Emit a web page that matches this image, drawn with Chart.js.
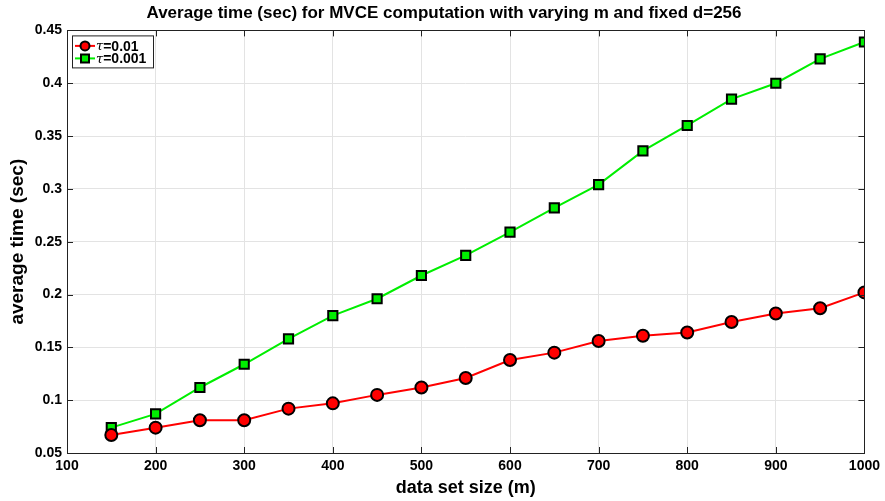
<!DOCTYPE html>
<html>
<head>
<meta charset="utf-8">
<script src="https://cdn.jsdelivr.net/npm/chart.js@4.4.0/dist/chart.umd.min.js"></script>
<style>
  html, body { margin: 0; padding: 0; background: #fff; }
  #wrap { width: 885px; height: 501px; }
</style>
</head>
<body>
<div id="wrap"><canvas id="chart" width="885" height="501"></canvas></div>
<script>
// data
const sizes = [150, 200, 250, 300, 350, 400, 450, 500, 550, 600, 650, 700, 750, 800, 850, 900, 950, 1000];
const tau001 = [0.067, 0.074, 0.081, 0.081, 0.092, 0.097, 0.105, 0.112, 0.121, 0.138, 0.145, 0.156, 0.161, 0.164, 0.174, 0.182, 0.187, 0.202];
const tau0001 = [0.074, 0.087, 0.112, 0.134, 0.158, 0.180, 0.196, 0.218, 0.237, 0.259, 0.282, 0.304, 0.336, 0.360, 0.385, 0.400, 0.423, 0.439];
const legendTaus = ['0.01', '0.001'];
const xTicks = [100, 200, 300, 400, 500, 600, 700, 800, 900, 1000];
const yTicks = [0.05, 0.1, 0.15, 0.2, 0.25, 0.3, 0.35, 0.4, 0.45];

const FONT = '"Liberation Sans", Arial, Helvetica, sans-serif';

// box round the plot with inward tick marks, like matlab
const frameBox = {
    id: 'frameBox',
    afterDatasetsDraw(chart) {
        const { ctx, chartArea: a, scales } = chart;
        ctx.save();
        ctx.strokeStyle = '#222';
        ctx.lineWidth = 1;
        ctx.beginPath();
        xTicks.forEach(v => {
            const px = Math.round(scales.x.getPixelForValue(v)) + 0.5;
            ctx.moveTo(px, a.bottom); ctx.lineTo(px, a.bottom - 6);
            ctx.moveTo(px, a.top); ctx.lineTo(px, a.top + 6);
        });
        yTicks.forEach(v => {
            const py = Math.round(scales.y.getPixelForValue(v)) + 0.5;
            ctx.moveTo(a.left, py); ctx.lineTo(a.left + 6, py);
            ctx.moveTo(a.right, py); ctx.lineTo(a.right - 6, py);
        });
        ctx.stroke();
        ctx.strokeRect(Math.round(a.left) + 0.5, Math.round(a.top) + 0.5,
            Math.round(a.right - a.left), Math.round(a.bottom - a.top));
        ctx.restore();
    }
};

// legend drawn inside the top-left corner
const boxLegend = {
    id: 'boxLegend',
    afterDraw(chart) {
        const { ctx, chartArea: a } = chart;
        const x0 = a.left + 5, y0 = a.top + 5, w = 81, h = 32;
        ctx.save();
        ctx.fillStyle = '#fff';
        ctx.fillRect(x0, y0, w, h);
        ctx.strokeStyle = '#222';
        ctx.lineWidth = 1;
        ctx.strokeRect(x0 + 0.5, y0 + 0.5, w, h);
        chart.data.datasets.forEach((ds, i) => {
            const cy = y0 + 10.5 + i * 12.5;
            ctx.strokeStyle = ds.borderColor;
            ctx.lineWidth = 2;
            ctx.beginPath();
            ctx.moveTo(x0 + 3, cy); ctx.lineTo(x0 + 23, cy);
            ctx.stroke();
            ctx.fillStyle = ds.pointBackgroundColor;
            ctx.strokeStyle = '#000';
            ctx.lineWidth = 2;
            ctx.beginPath();
            if (ds.pointStyle === 'circle') {
                ctx.arc(x0 + 13, cy, 4.5, 0, Math.PI * 2);
            } else {
                ctx.rect(x0 + 9, cy - 4, 8, 8);
            }
            ctx.fill(); ctx.stroke();
            ctx.fillStyle = '#000';
            ctx.textBaseline = 'middle';
            ctx.font = 'italic 13px "DejaVu Serif", serif';
            ctx.fillText('\u03c4', x0 + 24, cy + 1);
            const tw = ctx.measureText('\u03c4').width;
            ctx.font = 'bold 14px ' + FONT;
            ctx.fillText('=' + legendTaus[i], x0 + 24 + tw, cy + 1);
        });
        ctx.restore();
    }
};

const ctx = document.getElementById('chart');
new Chart(ctx, {
    type: 'line',
    data: {
        datasets: [
            {
                label: '\u03c4=0.01',
                data: sizes.map((s, i) => ({ x: s, y: tau001[i] })),
                borderColor: '#ff0000',
                borderWidth: 2,
                pointStyle: 'circle',
                pointRadius: 6,
                pointBorderWidth: 2,
                pointBorderColor: '#000',
                pointBackgroundColor: '#ff0000',
                tension: 0
            },
            {
                label: '\u03c4=0.001',
                data: sizes.map((s, i) => ({ x: s, y: tau0001[i] })),
                borderColor: '#00ee00',
                borderWidth: 2,
                pointStyle: 'rect',
                pointRadius: 6.5,
                pointBorderWidth: 2,
                pointBorderColor: '#000',
                pointBackgroundColor: '#00ee00',
                tension: 0
            }
        ]
    },
    options: {
        responsive: false,
        animation: false,
        // left padding is wide so the title centres like the original;
        // the y title is pulled back left with a negative padding
        layout: { padding: { left: 22, right: 19, top: 0, bottom: 0 } },
        plugins: {
            legend: { display: false },
            tooltip: { enabled: false },
            title: {
                display: true,
                text: 'Average time (sec) for MVCE computation with varying m and fixed d=256',
                color: '#000',
                font: { family: FONT, size: 17, weight: 'bold' },
                padding: { top: 3, bottom: 7 }
            }
        },
        scales: {
            x: {
                type: 'linear',
                min: 100,
                max: 1000,
                afterBuildTicks: (scale) => { scale.ticks = xTicks.map(v => ({ value: v })); },
                afterFit: (scale) => { scale.height = 48; },
                ticks: {
                    color: '#000',
                    font: { family: FONT, size: 14, weight: 'bold' },
                    padding: 5,
                    callback: (v) => String(v)
                },
                grid: { color: '#e3e3e3', drawTicks: false },
                border: { display: false },
                title: {
                    display: true,
                    text: 'data set size (m)',
                    color: '#000',
                    font: { family: FONT, size: 18, weight: 'bold' },
                    padding: { top: 0, bottom: 2 }
                }
            },
            y: {
                type: 'linear',
                min: 0.05,
                max: 0.45,
                afterBuildTicks: (scale) => { scale.ticks = yTicks.map(v => ({ value: v })); },
                afterFit: (scale) => { scale.width = 45; },
                ticks: {
                    color: '#000',
                    font: { family: FONT, size: 14, weight: 'bold' },
                    padding: 5,
                    callback: (v) => String(Math.round(v * 100) / 100)
                },
                grid: { color: '#e3e3e3', drawTicks: false },
                border: { display: false },
                title: {
                    display: true,
                    text: 'average time (sec)',
                    color: '#000',
                    font: { family: FONT, size: 19, weight: 'bold' },
                    padding: { top: -16, bottom: 0 }
                }
            }
        }
    },
    plugins: [frameBox, boxLegend]
});
</script>
</body>
</html>
